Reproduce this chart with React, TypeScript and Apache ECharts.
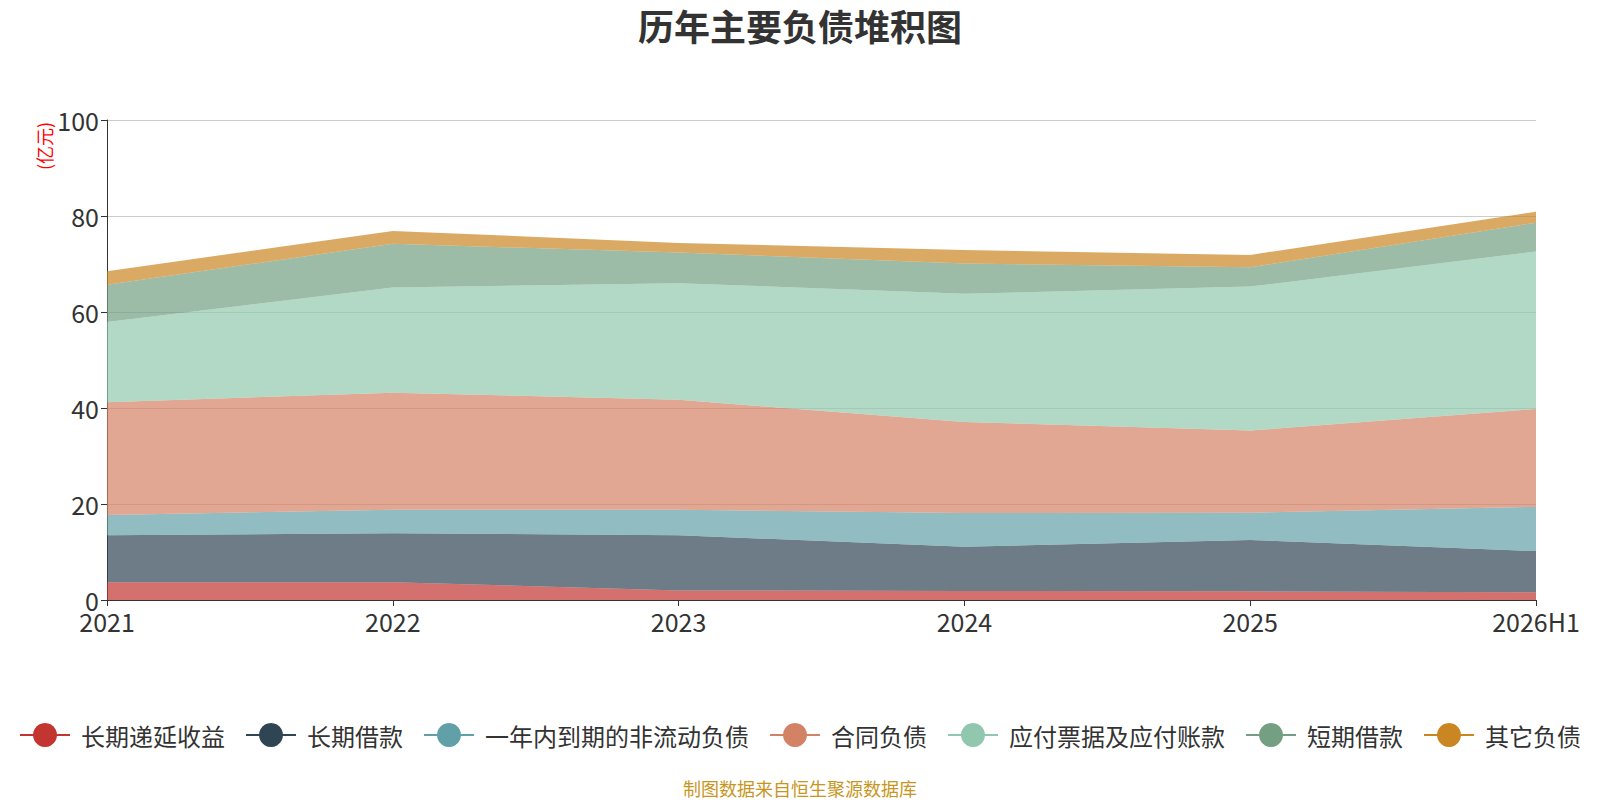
import { useEffect, useRef } from 'react'
import * as echarts from 'echarts'

const years = ['2021', '2022', '2023', '2024', '2025', '2026H1']

const seriesNames = [
  '长期递延收益',
  '长期借款',
  '一年内到期的非流动负债',
  '合同负债',
  '应付票据及应付账款',
  '短期借款',
  '其它负债'
]

// 单位：亿元
const deferredIncome = [3.7, 3.7, 2.0, 1.9, 1.8, 1.6]
const longTermLoans = [9.8, 10.2, 11.5, 9.2, 10.7, 8.6]
const currentNonCurrent = [4.2, 4.9, 5.3, 7.0, 5.7, 9.2]
const contractLiab = [23.5, 24.4, 22.9, 19.0, 17.1, 20.4]
const payables = [16.7, 21.9, 24.3, 26.7, 30.0, 32.8]
const shortTermLoans = [7.8, 9.1, 6.4, 6.3, 4.0, 6.0]
const otherLiab = [2.8, 2.7, 2.0, 2.8, 2.6, 2.3]

const colors = ['#c23531', '#2f4554', '#61a0a8', '#d48265', '#91c7ae', '#749f83', '#ca8622']

const App = () => {
  const chartRef = useRef<HTMLDivElement>(null)

  useEffect(() => {
    if (!chartRef.current) return
    const chart = echarts.init(chartRef.current, null, { renderer: 'svg' })
    const font = '"Noto Sans CJK SC", "Microsoft YaHei", sans-serif'
    const values = [deferredIncome, longTermLoans, currentNonCurrent, contractLiab, payables, shortTermLoans, otherLiab]

    chart.setOption({
      animation: false,
      color: colors,
      textStyle: { fontFamily: font },
      title: {
        text: '历年主要负债堆积图',
        left: 'center',
        top: 2,
        textStyle: { fontSize: 36, fontWeight: 'bold', color: '#333', fontFamily: font }
      },
      legend: {
        top: 718,
        left: 'center',
        itemWidth: 50,
        itemHeight: 30,
        itemGap: 20,
        lineStyle: { width: 2 },
        textStyle: { fontSize: 24, color: '#333', fontFamily: font, padding: [0, 0, 0, 6] },
        data: seriesNames
      },
      grid: { left: 107, right: 64, top: 120, bottom: 200 },
      xAxis: {
        type: 'category',
        boundaryGap: false,
        data: years,
        axisLine: { lineStyle: { color: '#333' } },
        axisTick: { show: true, length: 6, alignWithLabel: true },
        axisLabel: { fontSize: 25, color: '#333', margin: 8 }
      },
      yAxis: {
        type: 'value',
        min: 0,
        max: 100,
        interval: 20,
        axisLine: { show: true, lineStyle: { color: '#333' } },
        axisTick: { show: true, length: 6 },
        axisLabel: { fontSize: 25, color: '#333', margin: 8 },
        splitLine: { lineStyle: { color: '#ccc' } }
      },
      graphic: [
        {
          type: 'text',
          x: 35,
          y: 170,
          rotation: Math.PI / 2,
          style: { text: '(亿元)', fontSize: 18, fill: '#ff0000', fontFamily: font }
        },
        {
          type: 'text',
          left: 'center',
          top: 779,
          style: { text: '制图数据来自恒生聚源数据库', fontSize: 18, fill: '#c8961e', fontFamily: font }
        }
      ],
      series: seriesNames.map((name, i) => ({
        name,
        type: 'line',
        stack: 'total',
        symbol: 'circle',
        showSymbol: false,
        lineStyle: { width: 0 },
        areaStyle: { opacity: 0.7 },
        data: values[i]
      }))
    })

    return () => {
      chart.dispose()
    }
  }, [])

  return (
    <div
      ref={chartRef}
      style={{ position: 'fixed', left: 0, top: 0, width: '1600px', height: '800px', background: '#fff' }}
    />
  )
}

export default App
